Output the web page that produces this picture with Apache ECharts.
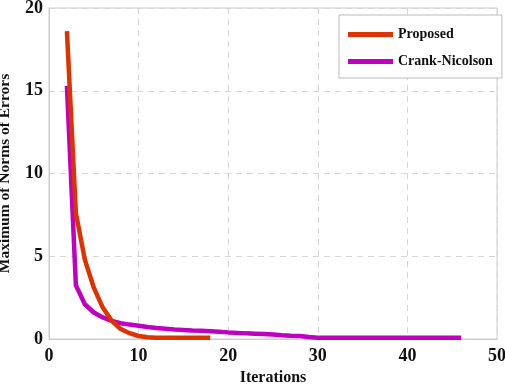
<!DOCTYPE html>
<html><head><meta charset="utf-8">
<script src="https://cdn.jsdelivr.net/npm/echarts@6/dist/echarts.min.js"></script>
<style>html,body{margin:0;padding:0;background:#fff}#c{width:505px;height:385px}</style>
</head><body><div id="c"></div>
<script>
const seriesNames = ['Proposed', 'Crank-Nicolson'];
const proposedIter = [2,3,4,5,6,7,8,9,10,11,12,13,14,15,16,17,18];
const proposedVals = [18.6,7.6,4.8,3.1,1.9,1.1,0.6,0.35,0.18,0.1,0.08,0.08,0.08,0.08,0.08,0.08,0.08];
const cnIter = [2,3,4,5,6,7,8,9,10,11,12,13,14,15,16,17,18,19,20,21,22,23,24,25,26,27,28,29,30,31,32,33,34,35,36,37,38,39,40,41,42,43,44,45,46];
const cnVals = [15.3,3.25,2.1,1.6,1.3,1.1,0.95,0.87,0.8,0.72,0.66,0.62,0.58,0.55,0.52,0.5,0.47,0.44,0.4,0.37,0.34,0.32,0.3,0.27,0.23,0.2,0.18,0.12,0.08,0.08,0.08,0.08,0.08,0.08,0.08,0.08,0.08,0.08,0.08,0.08,0.08,0.08,0.08,0.08,0.08];
const xTicks = [0,10,20,30,40,50];
const yTicks = [0,5,10,15,20];

const FONT = 'Liberation Serif';
const chart = echarts.init(document.getElementById('c'), null, {renderer:'canvas'});
const pair = (xs, ys) => xs.map((x,i)=>[x, ys[i]]);
chart.setOption({
  animation:false,
  backgroundColor:'#fff',
  grid:{left:49,right:8,top:8,bottom:46,show:true,borderColor:'#cccccc',borderWidth:1,containLabel:false,outerBoundsMode:'none'},
  legend:{
    left:339, top:15, orient:'vertical',
    data:seriesNames,
    icon:'rect', itemWidth:45, itemHeight:5, itemGap:10,
    padding:[11,9,8,9],
    borderColor:'#bbbbbb', borderWidth:1, backgroundColor:'#fff',
    textStyle:{fontFamily:FONT, fontWeight:'bold', fontSize:14, color:'#111', lineHeight:17}
  },
  xAxis:{
    type:'value', min:xTicks[0], max:xTicks[xTicks.length-1], interval:10,
    name:'Iterations', nameLocation:'middle', nameGap:31,
    nameTextStyle:{fontFamily:FONT, fontWeight:'bold', fontSize:16, color:'#111'},
    axisLine:{show:true,lineStyle:{color:'#cccccc'}},
    axisTick:{show:false},
    axisLabel:{fontFamily:FONT, fontWeight:'bold', fontSize:18, color:'#111', margin:8},
    splitLine:{show:true,lineStyle:{color:'#d6d6d6',type:[6,5]}}
  },
  yAxis:{
    type:'value', min:yTicks[0], max:yTicks[yTicks.length-1], interval:5,
    name:'Maximum of Norms of Errors', nameLocation:'middle', nameGap:36,
    nameTextStyle:{fontFamily:FONT, fontWeight:'bold', fontSize:15.5, color:'#111'},
    axisLine:{show:true,lineStyle:{color:'#cccccc'}},
    axisTick:{show:false},
    axisLabel:{fontFamily:FONT, fontWeight:'bold', fontSize:18, color:'#111', margin:6},
    splitLine:{show:true,lineStyle:{color:'#d6d6d6',type:[6,5]}}
  },
  series:[
    {name:seriesNames[0], type:'line', data:pair(proposedIter, proposedVals), showSymbol:false, symbol:'none',
     lineStyle:{color:'#dd3300', width:4.5}, itemStyle:{color:'#dd3300'}, z:3},
    {name:seriesNames[1], type:'line', data:pair(cnIter, cnVals), showSymbol:false, symbol:'none',
     lineStyle:{color:'#c000c0', width:4.5}, itemStyle:{color:'#c000c0'}, z:2}
  ]
});
</script></body></html>
